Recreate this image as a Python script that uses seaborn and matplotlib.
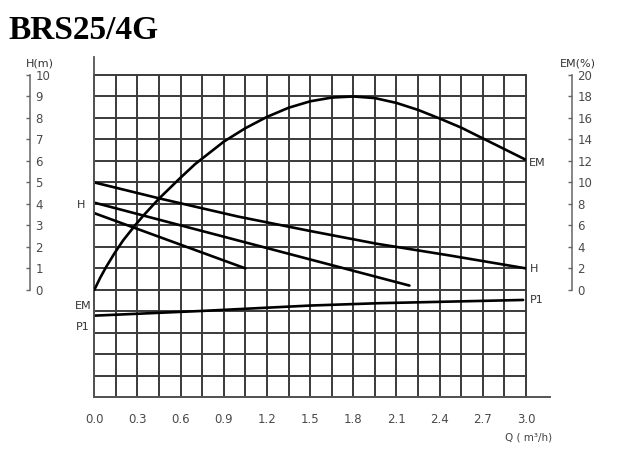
import numpy as np
import pandas as pd
import matplotlib
matplotlib.use("Agg")
import matplotlib.pyplot as plt
import seaborn as sns

# ---------------- data ----------------
title = "BRS25/4G"
q_ticks = [0.0, 0.3, 0.6, 0.9, 1.2, 1.5, 1.8, 2.1, 2.4, 2.7, 3.0]
q_tick_labels = ["0.0", "0.3", "0.6", "0.9", "1.2", "1.5", "1.8", "2.1", "2.4", "2.7", "3.0"]
h_ticks = [0, 1, 2, 3, 4, 5, 6, 7, 8, 9, 10]
em_ticks = [0, 2, 4, 6, 8, 10, 12, 14, 16, 18, 20]

# efficiency curve EM (%)
q_em = [0, 0.04, 0.083, 0.14, 0.2, 0.28, 0.34, 0.45, 0.6, 0.7, 0.9, 1.05,
        1.2, 1.35, 1.5, 1.65, 1.8, 1.95, 2.1, 2.25, 2.4, 2.55, 2.7, 2.85, 3.0]
em_val = [0, 1.1, 2.15, 3.4, 4.6, 5.95, 6.9, 8.5, 10.45, 11.7, 13.8, 15.05,
          16.1, 16.95, 17.55, 17.9, 18.0, 17.85, 17.4, 16.75, 15.95, 15.1, 14.1, 13.1, 12.1]

# head curves H (m)
q_h_high = [0, 0.45, 1.0, 1.5, 1.96, 2.47, 3.0]
h_high = [5.0, 4.26, 3.41, 2.74, 2.15, 1.6, 1.0]
q_h_mid = [0, 2.19]
h_mid = [4.06, 0.2]
q_h_low = [0, 1.05]
h_low = [3.57, 1.0]

# power curve P1 (drawn in head units, no scale)
q_p1 = [0, 0.75, 1.5, 1.98, 2.98]
p1_val = [-1.2, -0.98, -0.73, -0.62, -0.47]

# ---------------- style ----------------
sns.set_theme(style="white")
plt.rcParams["font.family"] = ["DejaVu Sans"]

W, Hpx = 635, 450
fig = plt.figure(figsize=(W / 100, Hpx / 100), dpi=100)
x0, x1 = 94.3, 526.0
ytop, ybot = 75.0, 397.3
ax = fig.add_axes([x0 / W, 1 - ybot / Hpx, (x1 - x0) / W, (ybot - ytop) / Hpx])

grid_col = "#3a3a3a"
num_col = "#4a4a4a"
ax.set_xlim(0, 3.0)
ax.set_ylim(-5, 10)
ax.set_xticks(q_ticks)
ax.set_xticklabels(q_tick_labels)
ax.set_xticks(np.arange(0.15, 3.0, 0.3), minor=True)
ax.set_yticks(np.arange(-5, 11, 1))
ax.set_yticklabels([])
ax.tick_params(axis="x", which="both", length=0, pad=11, labelsize=8.5, labelcolor=num_col)
ax.tick_params(axis="y", which="both", length=0)
ax.grid(True, which="both", color=grid_col, lw=1.4)
for gl in ax.get_xgridlines() + ax.get_ygridlines():
    gl.set_clip_on(False)
for t in ax.xaxis.get_minor_ticks():
    t.gridline.set_clip_on(False)
ax.set_axisbelow(True)
for s in ["top", "right"]:
    ax.spines[s].set_visible(False)
ax.spines["left"].set_bounds(-5, 10.85)
ax.spines["left"].set_color("#555555")
ax.spines["left"].set_linewidth(1.3)
ax.spines["bottom"].set_bounds(0, 3.165)
ax.spines["bottom"].set_color("#555555")
ax.spines["bottom"].set_linewidth(1.4)

curve_kw = dict(color="black", lw=1.9)
sns.lineplot(x=q_h_high, y=h_high, ax=ax, **curve_kw)
sns.lineplot(x=q_h_mid, y=h_mid, ax=ax, **curve_kw)
sns.lineplot(x=q_h_low, y=h_low, ax=ax, **curve_kw)
sns.lineplot(x=q_p1, y=p1_val, ax=ax, **curve_kw)
ax.set_xlabel("")
ax.set_ylabel("")

# EM axis (right scale)
ax2 = ax.twinx()
ax2.set_ylim(-10, 20)
sns.lineplot(x=q_em, y=em_val, ax=ax2, **curve_kw)
for s in ["top", "left", "bottom"]:
    ax2.spines[s].set_visible(False)
ax2.spines["right"].set_position(("axes", (571.7 - x0) / (x1 - x0)))
ax2.spines["right"].set_bounds(0, 20)
ax2.spines["right"].set_color("#666666")
ax2.spines["right"].set_linewidth(1.1)
ax2.set_yticks(em_ticks)
ax2.set_yticklabels([str(v) for v in em_ticks])
ax2.tick_params(axis="y", direction="in", length=3, width=1, color="#666666",
                pad=4, labelsize=8.5, labelcolor=num_col)
ax2.set_xlabel("")
ax2.set_ylabel("")
ax2.grid(False)

# H axis (left scale, detached)
ax3 = ax.twinx()
ax3.set_ylim(-5, 10)
for s in ["top", "left", "bottom"]:
    ax3.spines[s].set_visible(False)
ax3.spines["right"].set_position(("axes", (30.0 - x0) / (x1 - x0)))
ax3.spines["right"].set_bounds(0, 10)
ax3.spines["right"].set_color("#666666")
ax3.spines["right"].set_linewidth(1.1)
ax3.set_yticks(h_ticks)
ax3.set_yticklabels([str(v) for v in h_ticks])
ax3.tick_params(axis="y", direction="in", length=3, width=1, color="#666666",
                pad=4, labelsize=8.5, labelcolor=num_col)
ax3.grid(False)

# curve labels
lab_kw = dict(fontsize=8, color="#333333", va="center")
ax2.annotate("EM", xy=(3.0, em_val[-1]), xytext=(2, -2.5), textcoords="offset points", ha="left", **lab_kw)
ax.annotate("H", xy=(3.0, h_high[-1]), xytext=(3, -0.5), textcoords="offset points", ha="left", **lab_kw)
ax.annotate("P1", xy=(q_p1[-1], p1_val[-1]), xytext=(5, 0), textcoords="offset points", ha="left", **lab_kw)
ax.text(-0.092, 3.96, "H", ha="center", **lab_kw)
ax.text(-0.078, -0.75, "EM", ha="center", **lab_kw)
ax.text(-0.078, -1.72, "P1", ha="center", **lab_kw)

# axis titles
fig.text(40 / W, 1 - 64 / Hpx, "H(m)", ha="center", va="center", fontsize=8, color="#333333")
fig.text(578 / W, 1 - 63 / Hpx, "EM(%)", ha="center", va="center", fontsize=8, color="#333333")
fig.text(505 / W, 1 - 437 / Hpx, "Q ( m³/h)", ha="left", va="center", fontsize=7.5, color="#444444")

fig.text(8 / W, 1 - 39.3 / Hpx, title, ha="left", va="baseline", fontsize=24,
         fontweight="bold", family=["Liberation Serif", "DejaVu Serif"], color="black")

fig.savefig("out.png", dpi=100)
